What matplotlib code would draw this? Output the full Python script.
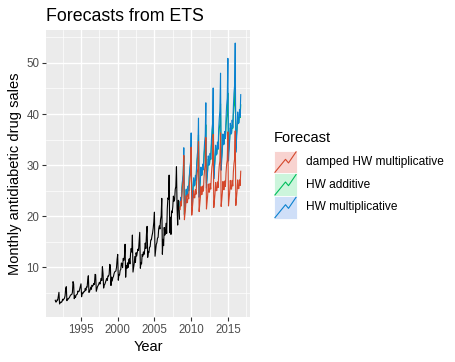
import numpy as np
import matplotlib
matplotlib.use("Agg")
import matplotlib.pyplot as plt
from matplotlib.patches import Rectangle
from matplotlib.lines import Line2D

plt.rcParams['font.family'] = ['Liberation Sans', 'DejaVu Sans']

# Monthly antidiabetic drug sales (a10), Jul 1991 - Jun 2008
a10 = [
    3.53, 3.18, 3.25, 3.61, 3.57, 4.31,
    5.09, 2.81, 2.99, 3.20, 3.13, 3.27, 3.74, 3.56, 3.78, 3.92, 4.39, 5.81,
    6.19, 3.45, 3.77, 3.73, 3.91, 4.05, 4.32, 4.56, 4.61, 4.67, 5.09, 7.18,
    6.73, 3.84, 4.39, 4.08, 4.54, 4.65, 4.75, 5.35, 5.20, 5.30, 5.77, 6.20,
    6.75, 4.22, 4.95, 4.82, 5.19, 5.17, 5.26, 5.86, 5.49, 6.12, 6.09, 7.42,
    8.33, 5.07, 5.26, 5.60, 6.11, 5.69, 6.49, 6.30, 6.47, 6.83, 6.65, 8.61,
    8.52, 5.28, 5.71, 6.21, 6.41, 6.67, 7.05, 6.70, 7.25, 7.82, 7.40, 10.10,
    8.80, 5.92, 6.53, 6.68, 7.06, 7.38, 7.81, 7.43, 8.28, 8.26, 8.60, 10.56,
    10.39, 6.42, 8.06, 7.30, 7.94, 8.17, 8.72, 9.07, 9.18, 9.25, 9.93, 11.53,
    12.51, 7.46, 8.59, 8.47, 9.39, 9.56, 10.83, 10.64, 9.91, 11.71, 11.34, 12.08,
    14.50, 8.05, 10.31, 9.75, 10.85, 9.96, 11.44, 11.66, 10.65, 12.65, 13.67, 12.97,
    16.30, 9.05, 10.00, 10.79, 12.11, 10.95, 12.84, 12.20, 12.85, 13.54, 13.29, 15.13,
    16.83, 9.80, 10.82, 10.65, 12.51, 12.16, 13.00, 12.52, 13.27, 14.73, 13.67, 16.50,
    18.00, 11.94, 13.00, 12.88, 13.94, 13.99, 15.34, 15.37, 16.14, 16.69, 17.64, 18.87,
    20.78, 12.15, 13.40, 14.46, 14.80, 15.71, 15.83, 17.55, 18.10, 17.50, 19.35, 20.03,
    23.49, 12.54, 15.47, 14.23, 17.78, 16.29, 16.98, 18.61, 16.62, 21.43, 23.58, 23.33,
    28.04, 16.76, 19.79, 16.43, 21.00, 20.68, 21.83, 23.93, 22.93, 23.26, 25.25, 25.81,
    29.67, 21.65, 18.26, 23.11, 22.91, 19.43,
]
start_year = 1991.5
fc_start = 2008.5

# forecasts Jul 2008 - Oct 2016
hw_mult = [
    22.1, 23.7, 22.9, 25.5, 27.2, 28.2, 33.4, 20.2, 21.6, 23.1, 25.3, 23.9,
    24.1, 25.9, 25.0, 27.8, 29.6, 30.6, 36.3, 22.0, 23.5, 25.1, 27.5, 26.0,
    26.1, 28.0, 27.0, 30.1, 32.0, 33.1, 39.2, 23.7, 25.4, 27.0, 29.6, 28.0,
    28.2, 30.2, 29.1, 32.4, 34.5, 35.6, 42.2, 25.5, 27.3, 29.0, 31.8, 30.0,
    30.2, 32.3, 31.2, 34.7, 36.9, 38.1, 45.1, 27.3, 29.1, 31.0, 33.9, 32.0,
    32.2, 34.5, 33.2, 37.0, 39.3, 40.6, 48.0, 29.0, 31.0, 33.0, 36.1, 34.0,
    34.2, 36.6, 35.3, 39.3, 41.7, 43.1, 50.9, 30.8, 32.9, 35.0, 38.2, 36.1,
    36.2, 38.8, 37.4, 41.5, 44.1, 45.6, 53.9, 32.5, 34.7, 36.9, 40.4, 38.1,
    38.3, 40.9, 39.5, 43.8,
]
hw_add = [
    22.0, 23.6, 22.9, 25.5, 27.0, 27.9, 31.8, 20.4, 21.6, 23.0, 25.1, 23.9,
    24.0, 25.6, 25.0, 27.6, 29.0, 29.9, 33.9, 22.4, 23.6, 25.1, 27.1, 25.9,
    26.1, 27.7, 27.0, 29.6, 31.1, 31.9, 35.9, 24.5, 25.6, 27.1, 29.2, 28.0,
    28.1, 29.7, 29.1, 31.6, 33.1, 34.0, 37.9, 26.5, 27.7, 29.2, 31.2, 30.0,
    30.2, 31.7, 31.1, 33.7, 35.1, 36.0, 40.0, 28.6, 29.7, 31.2, 33.3, 32.0,
    32.2, 33.8, 33.1, 35.7, 37.2, 38.1, 42.0, 30.6, 31.8, 33.2, 35.3, 34.1,
    34.2, 35.8, 35.2, 37.8, 39.2, 40.1, 44.1, 32.6, 33.8, 35.3, 37.3, 36.1,
    36.3, 37.9, 37.2, 39.8, 41.3, 42.1, 46.1, 34.7, 35.8, 37.3, 39.4, 38.2,
    38.3, 39.9, 39.3, 41.8,
]
damped_mult = [
    21.3, 22.9, 22.0, 24.5, 26.1, 26.9, 31.9, 19.3, 20.6, 21.9, 24.0, 22.6,
    22.7, 24.3, 23.4, 25.9, 27.5, 28.4, 33.5, 20.2, 21.6, 22.9, 25.0, 23.6,
    23.6, 25.2, 24.3, 26.9, 28.5, 29.4, 34.6, 20.9, 22.2, 23.6, 25.8, 24.2,
    24.3, 25.9, 24.9, 27.6, 29.2, 30.1, 35.4, 21.4, 22.7, 24.1, 26.3, 24.7,
    24.7, 26.4, 25.3, 28.1, 29.7, 30.5, 36.0, 21.7, 23.0, 24.4, 26.6, 25.0,
    25.0, 26.7, 25.6, 28.3, 30.0, 30.8, 36.3, 21.9, 23.2, 24.6, 26.8, 25.2,
    25.2, 26.9, 25.8, 28.5, 30.2, 31.0, 36.5, 22.0, 23.4, 24.8, 27.0, 25.3,
    25.3, 27.0, 25.9, 28.7, 30.3, 31.2, 36.7, 22.1, 23.5, 24.9, 27.1, 25.4,
    25.4, 27.1, 26.0, 28.8,
]

series_names = ["damped HW multiplicative", "HW additive", "HW multiplicative"]
line_colors = ["#D4472B", "#00BE5C", "#0A82CF"]
key_fills = ["#F8D3D0", "#CCF5DC", "#CFDFF8"]

W, H = 455, 362
fig = plt.figure(figsize=(W / 100, H / 100), dpi=100)
ax = fig.add_axes([46 / W, 1 - 317 / H, (250 - 46) / W, (317 - 30) / H])
ax.set_facecolor("#EBEBEB")
for s in ax.spines.values():
    s.set_visible(False)

t_hist = start_year + np.arange(len(a10)) / 12
t_fc = fc_start + np.arange(len(hw_mult)) / 12

ax.plot(t_hist, a10, color="black", lw=0.8, zorder=3)
ax.plot(t_fc, hw_add, color=line_colors[1], lw=0.8, zorder=3)
ax.plot(t_fc, hw_mult, color=line_colors[2], lw=0.8, zorder=4)
ax.plot(t_fc, damped_mult, color=line_colors[0], lw=0.8, zorder=5)

xmin, xmax = t_hist[0], t_fc[-1]
allv = a10 + hw_mult + hw_add + damped_mult
ymin, ymax = min(allv), max(allv)
dx, dy = (xmax - xmin) * 0.05, (ymax - ymin) * 0.05
ax.set_xlim(xmin - dx, xmax + dx)
ax.set_ylim(ymin - dy, ymax + dy)

ax.set_xticks([1995, 2000, 2005, 2010, 2015])
ax.set_xticks([1992.5, 1997.5, 2002.5, 2007.5, 2012.5, 2017.5], minor=True)
ax.set_yticks([10, 20, 30, 40, 50])
ax.set_yticks([5, 15, 25, 35, 45, 55], minor=True)
ax.grid(which="major", color="white", lw=1.0)
ax.grid(which="minor", color="white", lw=0.5)
ax.set_axisbelow(True)
ax.tick_params(which="major", length=2.7, width=0.8, color="#333333",
               labelcolor="#4D4D4D", labelsize=8.3, pad=2)
ax.tick_params(which="minor", length=0)

fig.text(46 / W, 1 - 21 / H, "Forecasts from ETS", fontsize=12.8, ha="left", va="baseline")
fig.text(148 / W, 1 - 347 / H, "Year", fontsize=10.5, ha="center", va="center")
fig.text(15 / W, 1 - 173.5 / H, "Monthly antidiabetic drug sales", fontsize=10.5,
         rotation=90, ha="center", va="center")

# legend, drawn by hand in pixel units
fig.text(274 / W, 1 - 138 / H, "Forecast", fontsize=10.5, ha="left", va="center")
key_x0, key_w, key_h, key_y0 = 274, 23, 22.7, 150.7
zig_x = [0.04, 0.5, 0.63, 0.96]
zig_y = [0.05, 0.62, 0.46, 0.95]
for i, name in enumerate(series_names):
    top = key_y0 + i * key_h
    fig.add_artist(Rectangle((key_x0 / W, 1 - (top + key_h) / H), key_w / W, key_h / H,
                             facecolor=key_fills[i], edgecolor="white", lw=0.6,
                             transform=fig.transFigure))
    xs = [(key_x0 + zx * key_w) / W for zx in zig_x]
    ys = [1 - (top + key_h - zy * key_h) / H for zy in zig_y]
    fig.add_artist(Line2D(xs, ys, color=line_colors[i], lw=0.8, transform=fig.transFigure))
    fig.text(305.5 / W, 1 - (top + key_h / 2) / H, name, fontsize=8.6, ha="left", va="center")

fig.savefig("out.png", dpi=100)
